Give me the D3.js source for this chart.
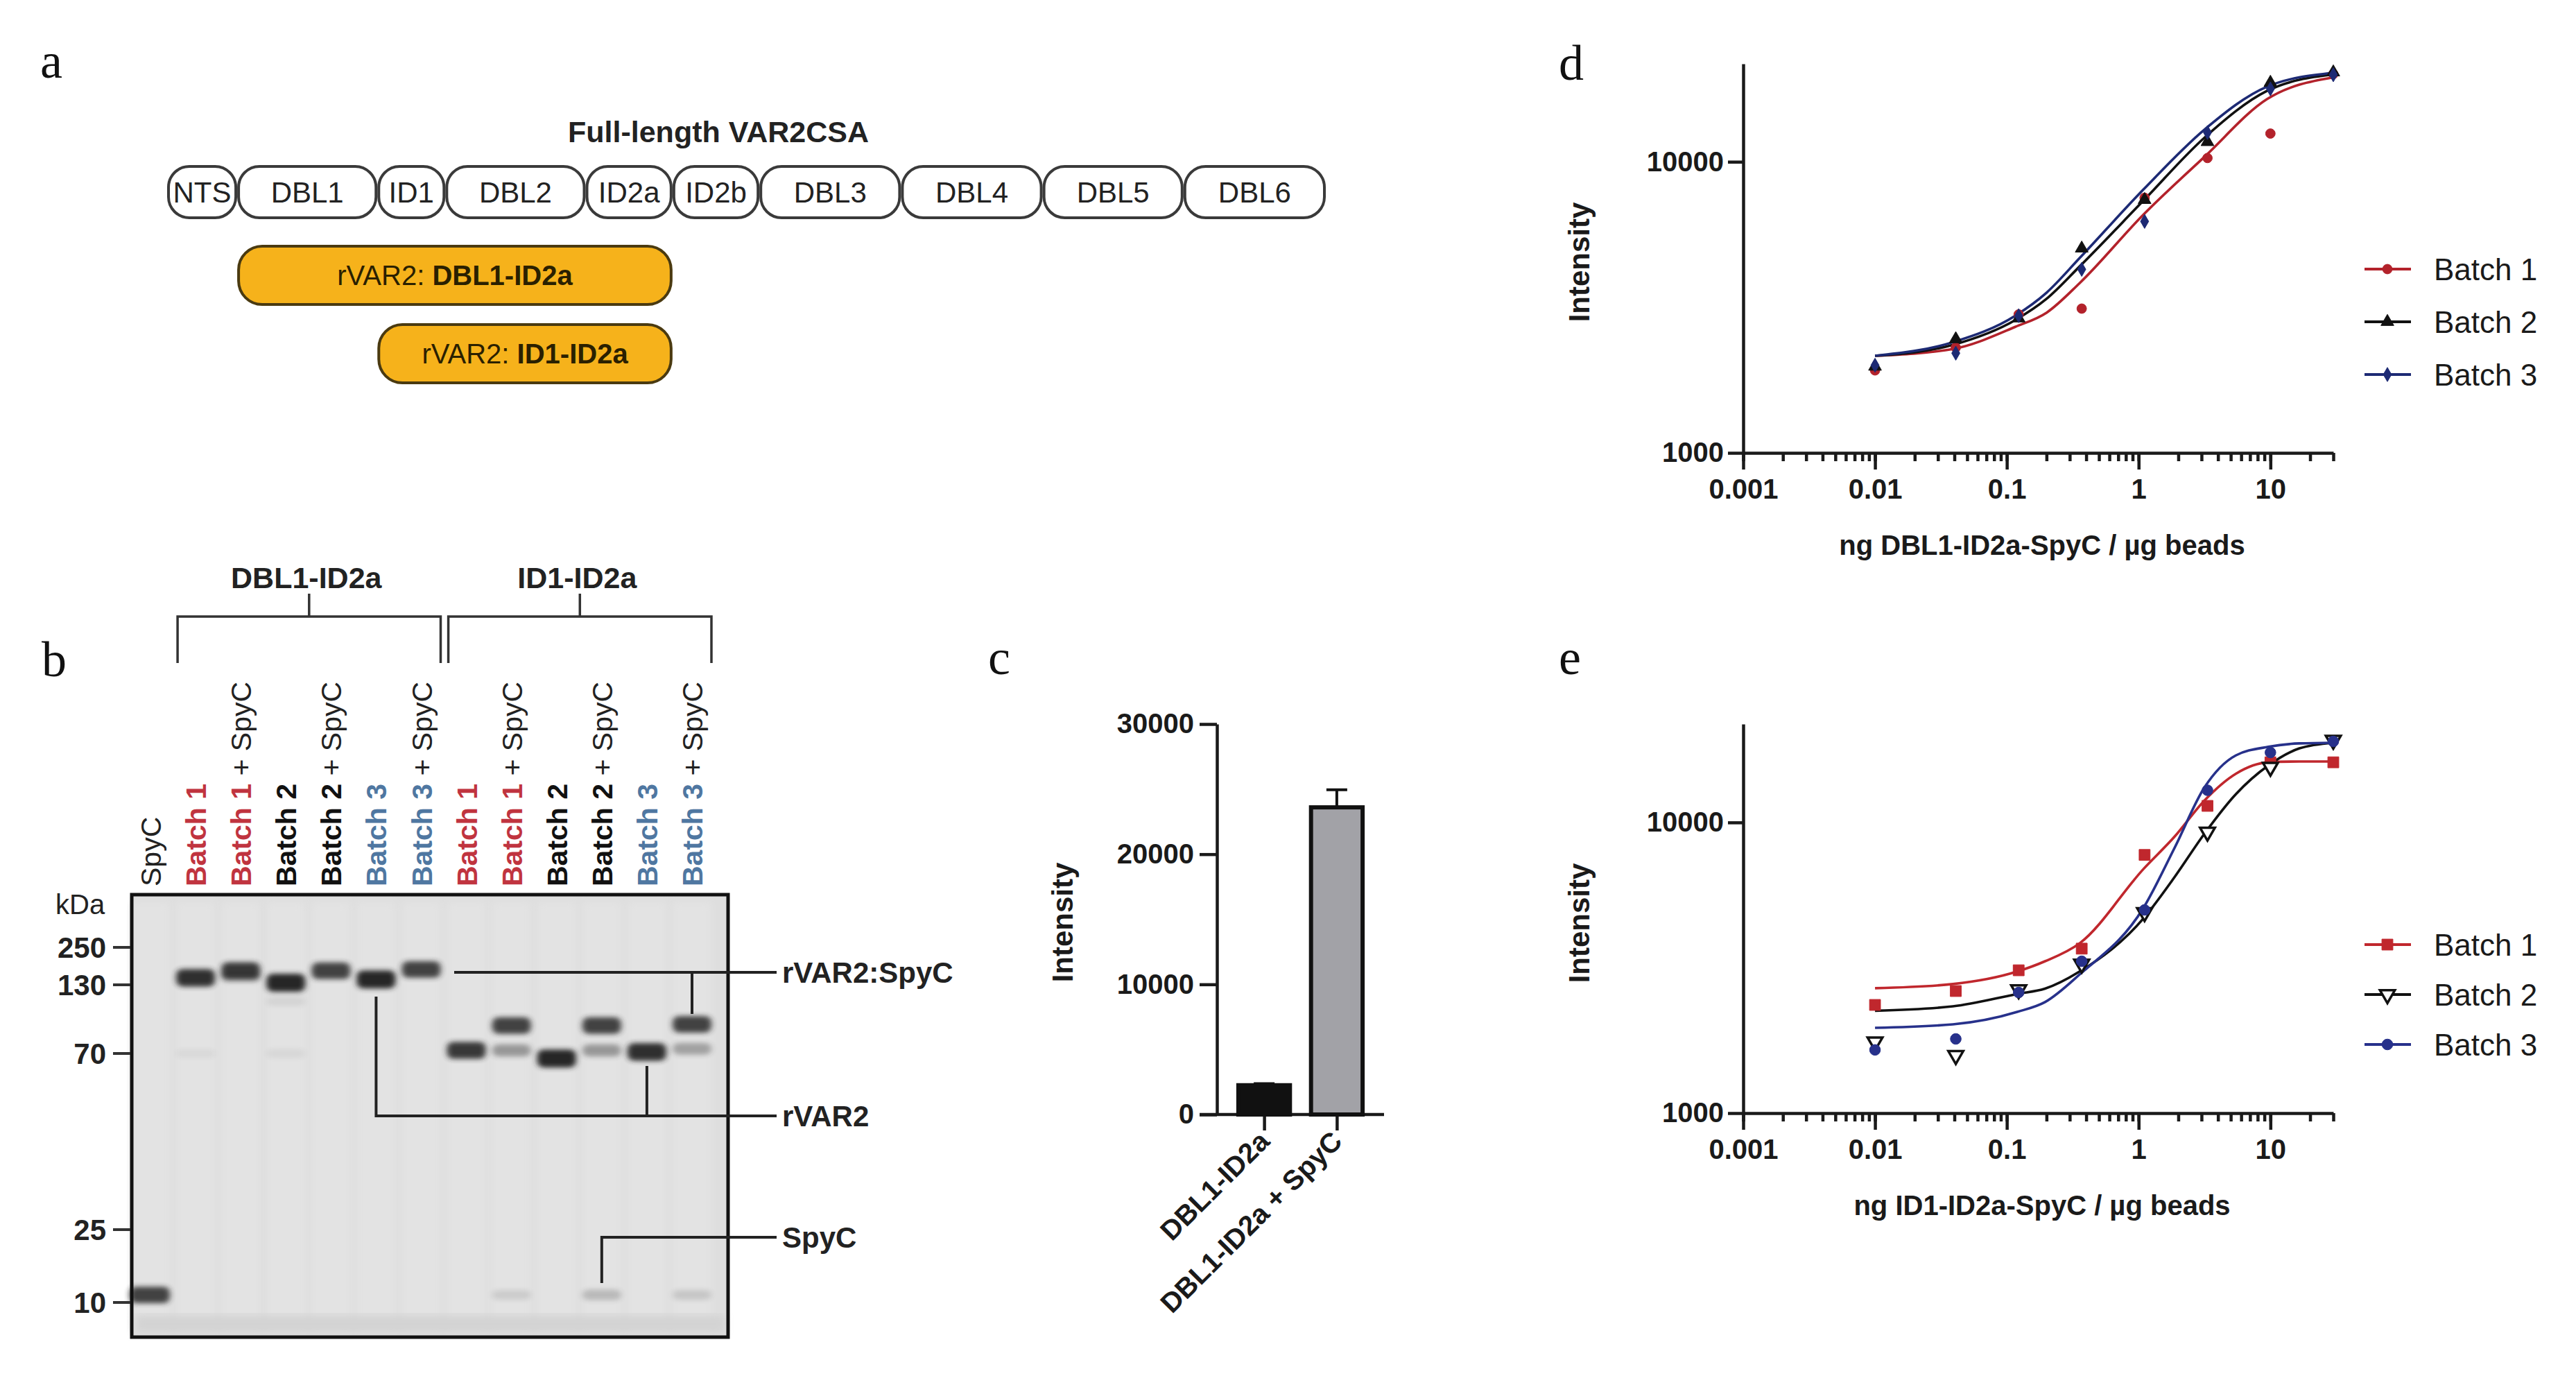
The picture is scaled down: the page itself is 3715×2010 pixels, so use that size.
<!DOCTYPE html>
<html>
<head>
<meta charset="utf-8">
<title>rVAR2 constructs, gel and bead titration</title>
<script src="https://d3js.org/d3.v7.min.js" charset="utf-8"></script>
<style>
  html, body { margin: 0; padding: 0; background: #fff; }
  svg { display: block; font-family: "Liberation Sans", Arial, sans-serif; }
  .letter { font-family: "Liberation Serif", "DejaVu Serif", serif; font-size: 72px; fill: #111; }
  .axis path, .axis line { stroke: #1a1a1a; stroke-width: 4.5px; }
  .axis text { font-family: "Liberation Sans", Arial, sans-serif; font-weight: bold; font-size: 40px; fill: #1a1a1a; }
</style>
</head>
<body>
<script>
// ---- data ----
// a: VAR2CSA domain layout (relative domain lengths)
var domainNames = ["NTS", "DBL1", "ID1", "DBL2", "ID2a", "ID2b", "DBL3", "DBL4", "DBL5", "DBL6"];
var domainSizes = [1, 2, 0.97, 2, 1.24, 1.24, 2.02, 2.02, 2.01, 2.03];
var constructNames = ["DBL1-ID2a", "ID1-ID2a"];
var constructFrom = ["DBL1", "ID1"];
var constructTo = ["ID2a", "ID2a"];

// b: SDS-PAGE gel
var markerKDa = [250, 130, 70, 25, 10];
var laneNames = ["SpyC", "Batch 1", "Batch 1", "Batch 2", "Batch 2", "Batch 3", "Batch 3",
                 "Batch 1", "Batch 1", "Batch 2", "Batch 2", "Batch 3", "Batch 3"];
var laneSpyC = [0, 0, 1, 0, 1, 0, 1, 0, 1, 0, 1, 0, 1];
var bandLane = [0, 1, 1, 2, 2, 3, 3, 3, 4, 5, 6, 7, 8, 8, 8, 9, 10, 10, 10, 11, 12, 12, 12];
var bandKDa = [11, 147, 70, 166, 150, 135, 112, 70, 166, 143, 170, 72, 90, 72, 11, 68, 90, 72, 11, 71, 91, 73, 11];
var bandStrength = [0.85, 0.95, 0.05, 0.9, 0.25, 1.0, 0.08, 0.06, 0.85, 1.0, 0.85, 0.9, 0.85, 0.4, 0.12, 1.0, 0.85, 0.4, 0.22, 0.95, 0.85, 0.35, 0.15];

// c: bar chart
var cCategories = ["DBL1-ID2a", "DBL1-ID2a + SpyC"];
var cMeans = [2250, 23600];
var cErrors = [120, 1350];
var cTicks = [0, 10000, 20000, 30000];

// d: DBL1-ID2a-SpyC titration
var doseTicks = [0.001, 0.01, 0.1, 1, 10];
var intensityTicks = [1000, 10000];
var batchNames = ["Batch 1", "Batch 2", "Batch 3"];
var doseD = [0.01, 0.041, 0.123, 0.37, 1.11, 3.33, 10, 30];
var dBatch1 = [1920, 2300, 2990, 3130, 7520, 10300, 12500, 20000];
var dBatch2 = [1980, 2460, 2900, 5040, 7400, 11700, 18700, 20300];
var dBatch3 = [2000, 2200, 2960, 4270, 6240, 12600, 17800, 19900];
var fitDoseD = [0.01, 0.039, 0.116, 0.2, 0.357, 1.09, 3.16, 9.4, 30];
var dFit1 = [2155, 2275, 2710, 3030, 3830, 6590, 10400, 16400, 19500];
var dFit2 = [2155, 2350, 2860, 3380, 4370, 7360, 12100, 17500, 19950];
var dFit3 = [2155, 2400, 2960, 3550, 4670, 8040, 12900, 18100, 20200];

// e: ID1-ID2a-SpyC titration
var doseE = [0.01, 0.041, 0.123, 0.37, 1.11, 3.33, 10, 30];
var eBatch1 = [2356, 2630, 3100, 3680, 7730, 11400, 16100, 16100];
var eBatch2 = [1760, 1580, 2660, 3260, 4900, 9270, 15500, 19200];
var eBatch3 = [1650, 1800, 2600, 3330, 5000, 12900, 17400, 19000];
var fitDoseE = [0.01, 0.039, 0.12, 0.195, 0.357, 1.09, 1.88, 3.16, 5.46, 9.64, 16.6, 30];
var eFit1 = [2690, 2780, 3070, 3330, 3840, 6920, 8950, 11900, 14700, 16100, 16200, 16200];
var eFit2 = [2250, 2330, 2570, 2680, 3070, 4680, 6500, 9150, 12500, 15700, 17980, 18800];
var eFit3 = [1965, 2020, 2230, 2410, 3000, 5090, 8200, 13200, 17000, 18200, 18700, 18800];

// ---- page ----
var svg = d3.select("body").append("svg")
    .attr("width", 3715)
    .attr("height", 2010);

var defs = svg.append("defs");
defs.append("filter").attr("id", "blur")
    .attr("x", "-40%").attr("y", "-100%").attr("width", "180%").attr("height", "300%")
  .append("feGaussianBlur").attr("stdDeviation", "4.5 3.5");
defs.append("filter").attr("id", "soft")
    .attr("x", "-10%").attr("y", "-10%").attr("width", "120%").attr("height", "120%")
  .append("feGaussianBlur").attr("stdDeviation", "6");

// panel letters
[["a", 58, 112], ["b", 60, 975], ["c", 1425, 972], ["d", 2248, 115], ["e", 2248, 972]].forEach(function(l) {
  svg.append("text").attr("class", "letter").attr("x", l[1]).attr("y", l[2]).text(l[0]);
});

// ---------- a ----------
var gA = svg.append("g");
var domEnd = d3.cumsum(domainSizes);
var domX = d3.scaleLinear().domain([0, d3.sum(domainSizes)]).range([241, 1912]);
var doms = domainNames.map(function(n, i) {
  return {name: n, start: i ? domEnd[i - 1] : 0, end: domEnd[i]};
});
function domStart(n) { return doms[domainNames.indexOf(n)].start; }
function domStop(n) { return doms[domainNames.indexOf(n)].end; }

gA.append("text")
    .attr("x", 1036).attr("y", 205)
    .attr("text-anchor", "middle")
    .attr("font-weight", "bold").attr("font-size", 43).attr("fill", "#222")
    .text("Full-length VAR2CSA");

gA.selectAll("rect.dom").data(doms).join("rect")
    .attr("class", "dom")
    .attr("x", function(d) { return domX(d.start) + 2; })
    .attr("width", function(d) { return domX(d.end) - domX(d.start) - 4; })
    .attr("y", 240).attr("height", 74).attr("rx", 30)
    .attr("fill", "#fff").attr("stroke", "#3a3a3a").attr("stroke-width", 4);

gA.selectAll("text.dom").data(doms).join("text")
    .attr("class", "dom")
    .attr("x", function(d) { return (domX(d.start) + domX(d.end)) / 2; })
    .attr("y", 277).attr("dy", "0.35em")
    .attr("text-anchor", "middle").attr("font-size", 42).attr("fill", "#222")
    .text(function(d) { return d.name; });

constructNames.forEach(function(c, i) {
  var x0 = domX(domStart(constructFrom[i])) + 2, x1 = domX(domStop(constructTo[i])) - 2;
  var y0 = 355 + i * 113;
  gA.append("rect")
      .attr("x", x0).attr("y", y0).attr("width", x1 - x0).attr("height", 84).attr("rx", 34)
      .attr("fill", "#f6b21b").attr("stroke", "#4a3a10").attr("stroke-width", 4);
  var t = gA.append("text")
      .attr("x", (x0 + x1) / 2).attr("y", y0 + 42).attr("dy", "0.35em")
      .attr("text-anchor", "middle").attr("font-size", 40).attr("fill", "#2a2000");
  t.append("tspan").text("rVAR2: ");
  t.append("tspan").attr("font-weight", "bold").text(c);
});

// ---------- b ----------
var gB = svg.append("g");
var laneX = d3.scaleLinear().domain([0, 12]).range([217, 998]);
var kdaY = d3.scaleLog().domain(markerKDa).range([1366, 1420, 1519, 1773, 1878]);
var batchColor = {"Batch 1": "#c0343f", "Batch 2": "#111", "Batch 3": "#4f77a1"};

// group brackets
constructNames.forEach(function(c, i) {
  var xa = laneX(1 + i * 6) - 26, xb = laneX(6 + i * 6) + 28, xm = (xa + xb) / 2;
  gB.append("path")
      .attr("d", "M" + xa + ",956V889H" + xb + "V956M" + xm + ",889V856")
      .attr("fill", "none").attr("stroke", "#333").attr("stroke-width", 3.5);
  gB.append("text")
      .attr("x", xm - 4).attr("y", 848)
      .attr("text-anchor", "middle").attr("font-weight", "bold").attr("font-size", 43).attr("fill", "#222")
      .text(c);
});

// lane labels
laneNames.forEach(function(n, i) {
  var t = gB.append("text")
      .attr("transform", "translate(" + (laneX(i) + 15) + ",1278) rotate(-90)")
      .attr("font-size", 41);
  if (i === 0) {
    t.attr("fill", "#222").text(n);
  } else {
    t.append("tspan").attr("font-weight", "bold").attr("fill", batchColor[n]).text(n);
    if (laneSpyC[i]) t.append("tspan").attr("fill", "#222").text(" + SpyC");
  }
});

// gel body
gB.append("rect").attr("x", 190).attr("y", 1290).attr("width", 860).attr("height", 638).attr("fill", "#dedede");
laneNames.forEach(function(n, i) {
  gB.append("rect")
      .attr("x", laneX(i) - 28).attr("y", 1300).attr("width", 56).attr("height", 620)
      .attr("fill", "#e3e3e3").attr("filter", "url(#soft)");
});
gB.append("rect").attr("x", 196).attr("y", 1896).attr("width", 848).attr("height", 26)
    .attr("fill", "#d3d3d3").attr("filter", "url(#soft)");

gB.selectAll("rect.band").data(bandLane.map(function(l, i) {
      return {lane: l, kda: bandKDa[i], s: bandStrength[i]};
    }))
  .join("rect")
    .attr("class", "band")
    .attr("x", function(d) { return laneX(d.lane) - (d.lane === 0 ? 30 : 28); })
    .attr("width", function(d) { return d.lane === 0 ? 58 : 56; })
    .attr("y", function(d) { var h = 12 + 14 * d.s; return kdaY(d.kda) - h / 2; })
    .attr("height", function(d) { return 12 + 14 * d.s; })
    .attr("rx", 9)
    .attr("fill", "#262626")
    .attr("opacity", function(d) { return d.s; })
    .attr("filter", "url(#blur)");

gB.append("rect").attr("x", 190).attr("y", 1290).attr("width", 860).attr("height", 638)
    .attr("fill", "none").attr("stroke", "#111").attr("stroke-width", 5);

gB.append("text").attr("x", 80).attr("y", 1318).attr("font-size", 40).attr("fill", "#222").text("kDa");
markerKDa.forEach(function(k) {
  gB.append("line").attr("x1", 163).attr("x2", 188).attr("y1", kdaY(k)).attr("y2", kdaY(k))
      .attr("stroke", "#333").attr("stroke-width", 4);
  gB.append("text").attr("x", 153).attr("y", kdaY(k)).attr("dy", "0.35em")
      .attr("text-anchor", "end").attr("font-weight", "bold").attr("font-size", 42).attr("fill", "#222")
      .text(k);
});

// band call-outs
var callout = gB.append("g").attr("fill", "none").attr("stroke", "#222").attr("stroke-width", 4);
callout.append("path").attr("d", "M655,1402H1120M" + laneX(12) + ",1402V1462");
callout.append("path").attr("d", "M" + laneX(5) + ",1437V1609H1120M" + laneX(11) + ",1537V1609");
callout.append("path").attr("d", "M1120,1784H" + laneX(10) + "V1850");
[["rVAR2:SpyC", 1402], ["rVAR2", 1609], ["SpyC", 1784]].forEach(function(c) {
  gB.append("text").attr("x", 1128).attr("y", c[1]).attr("dy", "0.35em")
      .attr("font-weight", "bold").attr("font-size", 42).attr("fill", "#222").text(c[0]);
});

// ---------- c ----------
var gC = svg.append("g");
var cy = d3.scaleLinear().domain([0, 30000]).range([1607, 1044]);
var cx = d3.scalePoint().domain(cCategories).range([1755, 1996]).padding(0.65);
var barW = cx.step() * 0.71;

gC.append("g").attr("class", "axis").attr("transform", "translate(1755,0)")
    .call(d3.axisLeft(cy).tickValues(cTicks).tickSize(25).tickSizeOuter(0).tickPadding(8).tickFormat(d3.format("d")));
gC.append("line").attr("x1", 1730).attr("x2", 1996).attr("y1", 1607).attr("y2", 1607)
    .attr("stroke", "#1a1a1a").attr("stroke-width", 4.5);
var cxAxis = gC.append("g").attr("class", "axis").attr("transform", "translate(0,1607)")
    .call(d3.axisBottom(cx).tickSize(23).tickSizeOuter(0).tickFormat(""));
cxAxis.select(".domain").remove();

gC.selectAll("rect.bar").data(cCategories).join("rect")
    .attr("class", "bar")
    .attr("x", function(d) { return cx(d) - barW / 2; })
    .attr("width", barW)
    .attr("y", function(d, i) { return cy(cMeans[i]); })
    .attr("height", function(d, i) { return cy(0) - cy(cMeans[i]); })
    .attr("fill", function(d, i) { return i ? "#a2a2a7" : "#111"; })
    .attr("stroke", "#111").attr("stroke-width", 6);

cCategories.forEach(function(c, i) {
  var top = cy(cMeans[i] + cErrors[i]);
  gC.append("path")
      .attr("d", "M" + cx(c) + "," + cy(cMeans[i]) + "V" + top + "M" + (cx(c) - 15) + "," + top + "H" + (cx(c) + 15))
      .attr("stroke", "#111").attr("stroke-width", 4).attr("fill", "none");
  gC.append("text")
      .attr("transform", "translate(" + (cx(c) + 10) + ",1648) rotate(-45)")
      .attr("text-anchor", "end").attr("font-weight", "bold").attr("font-size", 40).attr("fill", "#1a1a1a")
      .text(c);
});
gC.append("text").attr("transform", "translate(1547,1330) rotate(-90)")
    .attr("text-anchor", "middle").attr("font-weight", "bold").attr("font-size", 42).attr("fill", "#1a1a1a")
    .text("Intensity");

// ---------- d and e ----------
function titration(opt) {
  var g = svg.append("g");
  var x = d3.scaleLog().domain([0.001, 30]).range([2514, 3365]);
  var y = d3.scaleLog().domain([1000, opt.yMax]).range([opt.y0, opt.y1]);

  var minor = g.append("g").attr("class", "axis").attr("transform", "translate(0," + opt.y0 + ")")
      .call(d3.axisBottom(x).tickValues(x.ticks()).tickSize(12).tickSizeOuter(0).tickFormat(""));
  minor.select(".domain").remove();
  g.append("g").attr("class", "axis").attr("transform", "translate(0," + opt.y0 + ")")
      .call(d3.axisBottom(x).tickValues(doseTicks).tickSize(24).tickSizeOuter(0).tickPadding(14)
        .tickFormat(function(d) { return String(d); }));
  g.append("g").attr("class", "axis").attr("transform", "translate(2514,0)")
      .call(d3.axisLeft(y).tickValues(intensityTicks).tickSize(22).tickSizeOuter(0).tickPadding(6)
        .tickFormat(d3.format("d")));

  g.append("text").attr("x", 2945).attr("y", opt.y0 + 147)
      .attr("text-anchor", "middle").attr("font-weight", "bold").attr("font-size", 40).attr("fill", "#1a1a1a")
      .text(opt.xLabel);
  g.append("text").attr("transform", "translate(2292," + opt.yLabelMid + ") rotate(-90)")
      .attr("text-anchor", "middle").attr("font-weight", "bold").attr("font-size", 42).attr("fill", "#1a1a1a")
      .text("Intensity");

  var line = d3.line()
      .x(function(d) { return x(d[0]); })
      .y(function(d) { return y(d[1]); })
      .curve(d3.curveMonotoneX);

  opt.fits.forEach(function(f, i) {
    g.append("path")
        .datum(opt.fitDose.map(function(v, j) { return [v, f[j]]; }))
        .attr("d", line)
        .attr("fill", "none").attr("stroke", opt.colors[i]).attr("stroke-width", 3.6);
  });

  function marker(sel, i) {
    sel.attr("d", d3.symbol().type(opt.symbols[i]).size(opt.sizes[i]))
        .attr("fill", opt.open[i] ? "#fff" : opt.colors[i])
        .attr("stroke", opt.colors[i]).attr("stroke-width", opt.open[i] ? 3.5 : 1);
  }

  opt.series.forEach(function(s, i) {
    g.selectAll("path.pt" + i).data(s).join("path")
        .attr("class", "pt" + i)
        .attr("transform", function(d, j) {
          return "translate(" + x(opt.dose[j]) + "," + y(d) + ")" + (opt.flip[i] ? " rotate(180)" : "");
        })
        .call(marker, i);
  });

  batchNames.forEach(function(b, i) {
    var ly = opt.legendY[i];
    g.append("line").attr("x1", 3410).attr("x2", 3477).attr("y1", ly).attr("y2", ly)
        .attr("stroke", opt.colors[i]).attr("stroke-width", 4);
    g.append("path")
        .attr("transform", "translate(3443," + ly + ")" + (opt.flip[i] ? " rotate(180)" : ""))
        .call(marker, i);
    g.append("text").attr("x", 3510).attr("y", ly).attr("dy", "0.36em")
        .attr("font-size", 44).attr("fill", "#1a1a1a").text(b);
  });
}

titration({
  y0: 653, y1: 92, yMax: 21700, yLabelMid: 378,
  xLabel: "ng DBL1-ID2a-SpyC / \u00b5g beads",
  dose: doseD, series: [dBatch1, dBatch2, dBatch3],
  fitDose: fitDoseD, fits: [dFit1, dFit2, dFit3],
  colors: ["#b3222b", "#111", "#1d2a74"],
  symbols: [d3.symbolCircle, d3.symbolTriangle, d3.symbolDiamond],
  sizes: [150, 150, 120], open: [false, false, false], flip: [false, false, false],
  legendY: [388, 464, 540]
});

titration({
  y0: 1605, y1: 1044, yMax: 21800, yLabelMid: 1331,
  xLabel: "ng ID1-ID2a-SpyC / \u00b5g beads",
  dose: doseE, series: [eBatch1, eBatch2, eBatch3],
  fitDose: fitDoseE, fits: [eFit1, eFit2, eFit3],
  colors: ["#c0272d", "#111", "#27318b"],
  symbols: [d3.symbolSquare, d3.symbolTriangle, d3.symbolCircle],
  sizes: [250, 200, 190], open: [false, true, false], flip: [false, true, false],
  legendY: [1362, 1434, 1506]
});
</script>
</body>
</html>
